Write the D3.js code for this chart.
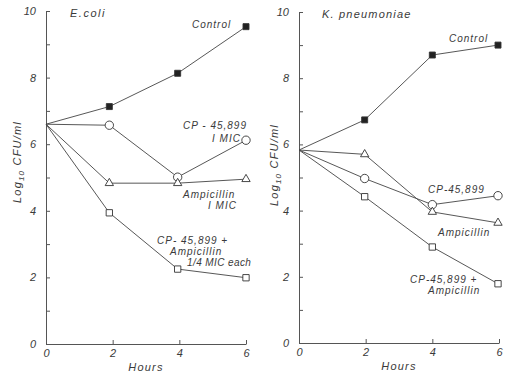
<!DOCTYPE html>
<html lang="en">
<head>
  <meta charset="UTF-8">
  <title>Kill curves</title>
  <style>
    body { margin: 0; background: #fff; }
    svg text { font-family: "Liberation Sans", Arial, sans-serif; font-style: italic; fill: #3a3a3a; }
    .axis path, .axis line { stroke: #555; stroke-width: 1; }
    .axis text { font-size: 11px; }
  </style>
</head>
<body>
  <div id="chart"></div>
  <script src="https://d3js.org/d3.v7.min.js"></script>
  <script>

    // -- E. coli panel data (log10 CFU/ml vs hours) --
    const ecoliHours = [0, 1.9, 3.95, 6]
    const ecoliControl = [6.6, 7.13, 8.13, 9.53]
    const ecoliCP = [6.6, 6.57, 5.01, 6.12]
    const ecoliAmp = [6.6, 4.83, 4.83, 4.95]
    const ecoliCombo = [6.6, 3.94, 2.25, 1.99]

    // -- K. pneumoniae panel data --
    const kpHours = [0, 1.97, 4, 5.97]
    const kpControl = [5.83, 6.74, 8.7, 9.0]
    const kpCP = [5.83, 4.97, 4.18, 4.45]
    const kpAmp = [5.83, 5.7, 3.96, 3.63]
    const kpCombo = [5.83, 4.42, 2.9, 1.79]

    // tick labels
    const xTicks = [0, 2, 4, 6]
    const yTicks = [0, 1, 2, 3, 4, 5, 6, 7, 8, 9, 10]

    const svg = d3.select("#chart").append("svg")
      .attr("width", 507)
      .attr("height", 374)

    // draws one panel: axes, series and labels
    function drawPanel(p) {
      const x = d3.scaleLinear().domain([0, 6]).range([p.left, p.right])
      const y = d3.scaleLinear().domain([0, 10]).range([p.bottom, p.top])
      const g = svg.append("g")

      // Y axis, ticks pointing inward
      g.append("g")
        .attr("class", "axis")
        .attr("transform", `translate(${p.left},0)`)
        .call(d3.axisLeft(y).tickValues(yTicks).tickSizeInner(-4).tickSizeOuter(0).tickPadding(10)
          .tickFormat(d => d % 2 === 0 ? d : ""))

      // X axis
      g.append("g")
        .attr("class", "axis")
        .attr("transform", `translate(0,${p.bottom})`)
        .call(d3.axisBottom(x).tickValues(xTicks).tickFormat(d3.format("d"))
          .tickSizeInner(-4).tickSizeOuter(0).tickPadding(4))
        .call(a => a.selectAll(".tick text").attr("dy", "0.8em"))

      // axis titles
      g.append("text")
        .attr("x", (p.left + p.right) / 2)
        .attr("y", p.bottom + 27)
        .attr("text-anchor", "middle")
        .attr("font-size", "11px")
        .attr("letter-spacing", "1.2px")
        .text("Hours")

      const yl = g.append("text")
        .attr("transform", `translate(${p.ylabX},${p.ylabY}) rotate(-90)`)
        .attr("text-anchor", "middle")
        .attr("font-size", "11px")
        .attr("letter-spacing", "1.2px")
      yl.append("tspan").text("Log")
      yl.append("tspan").attr("font-size", "8px").attr("dy", "3").text("10")
      yl.append("tspan").attr("dy", "-3").text(" CFU/ml")

      // series
      const line = d3.line().x(d => x(d[0])).y(d => y(d[1]))
      p.series.forEach(s => {
        const pts = p.hours.map((h, i) => [h, s.values[i]])
        g.append("path")
          .attr("d", line(pts))
          .attr("fill", "none")
          .attr("stroke", "#444")
          .attr("stroke-width", 0.9)

        const sym = d3.symbol().type(s.shape).size(s.size)
        g.selectAll(null)
          .data(pts.slice(1))
          .join("path")
          .attr("transform", d => `translate(${x(d[0])},${y(d[1])})`)
          .attr("d", sym)
          .attr("fill", s.filled ? "#222" : "#fff")
          .attr("stroke", "#333")
          .attr("stroke-width", 0.9)
      })

      // labels
      p.labels.forEach(l => {
        g.append("text")
          .attr("x", l.x)
          .attr("y", l.y)
          .attr("font-size", l.size || "10px")
          .attr("letter-spacing", l.ls || "1px")
          .text(l.t)
      })
    }

    drawPanel({
      left: 46, right: 246, top: 11, bottom: 344,
      ylabX: 21, ylabY: 162,
      hours: ecoliHours,
      series: [
        { values: ecoliControl, shape: d3.symbolSquare, size: 36, filled: true },
        { values: ecoliCP, shape: d3.symbolCircle, size: 55, filled: false },
        { values: ecoliAmp, shape: d3.symbolTriangle, size: 30, filled: false },
        { values: ecoliCombo, shape: d3.symbolSquare, size: 40, filled: false }
      ],
      labels: [
        { t: "E.coli", x: 70, y: 17, size: "11px", ls: "1.5px" },
        { t: "Control", x: 192, y: 28 },
        { t: "CP - 45,899", x: 183, y: 129 },
        { t: "I MIC", x: 212, y: 142 },
        { t: "Ampicillin", x: 183, y: 198 },
        { t: "I MIC", x: 208, y: 209 },
        { t: "CP- 45,899 +", x: 157, y: 244 },
        { t: "Ampicillin", x: 170, y: 255 },
        { t: "1/4 MIC each", x: 187, y: 266, ls: "0.4px" }
      ]
    })

    drawPanel({
      left: 299, right: 499, top: 12, bottom: 343,
      ylabX: 278, ylabY: 165,
      hours: kpHours,
      series: [
        { values: kpControl, shape: d3.symbolSquare, size: 36, filled: true },
        { values: kpCP, shape: d3.symbolCircle, size: 55, filled: false },
        { values: kpAmp, shape: d3.symbolTriangle, size: 30, filled: false },
        { values: kpCombo, shape: d3.symbolSquare, size: 40, filled: false }
      ],
      labels: [
        { t: "K. pneumoniae", x: 322, y: 18, size: "11px", ls: "1.2px" },
        { t: "Control", x: 449, y: 42 },
        { t: "CP-45,899", x: 428, y: 193 },
        { t: "Ampicillin", x: 438, y: 236 },
        { t: "CP-45,899 +", x: 410, y: 283 },
        { t: "Ampicillin", x: 428, y: 294 }
      ]
    })

  </script>
</body>
</html>
